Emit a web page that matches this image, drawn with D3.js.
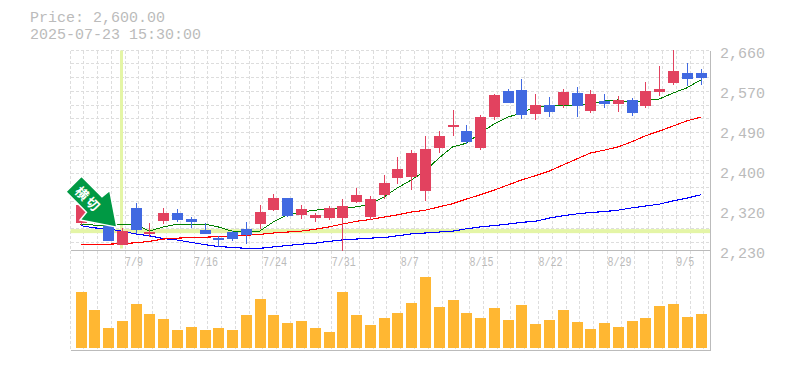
<!DOCTYPE html>
<html>
<head>
<meta charset="utf-8">
<script src="https://cdn.jsdelivr.net/npm/d3@7"></script>
<style>
html, body { margin: 0; padding: 0; background: #fff; }
svg { display: block; }
text { font-family: "Liberation Mono", monospace; fill: #bbb; }
</style>
</head>
<body>
<div class="chart"></div>
<script>
const opens  = [2295,2297,2288,2247,2327,2271,2299,2316,2303,2280,2262,2275,2282,2292,2322,2348,2312,2305,2305,2305,2340,2307,2355,2391,2394,2363,2456,2501,2492,2456,2523,2578,2581,2529,2548,2548,2574,2535,2557,2550,2559,2546,2576,2596,2617,2617];
const highs  = [2338,2322,2288,2284,2337,2295,2327,2325,2307,2295,2267,2277,2297,2333,2357,2348,2333,2316,2331,2346,2370,2353,2398,2437,2452,2482,2492,2538,2505,2527,2572,2583,2604,2572,2566,2583,2587,2581,2572,2568,2563,2598,2632,2667,2639,2626];
const lows   = [2290,2292,2256,2247,2271,2264,2292,2297,2284,2271,2243,2256,2249,2282,2320,2307,2303,2297,2301,2234,2338,2301,2346,2378,2365,2342,2445,2482,2464,2452,2516,2553,2518,2516,2523,2542,2523,2531,2542,2533,2525,2542,2568,2591,2589,2591];
const closes = [2333,2318,2256,2277,2280,2275,2316,2301,2297,2271,2258,2260,2269,2318,2348,2310,2325,2312,2327,2331,2355,2346,2380,2411,2445,2454,2482,2505,2469,2523,2570,2553,2527,2548,2533,2576,2546,2572,2550,2559,2531,2578,2583,2621,2604,2606];
const volumes = [56,38,20,27,44,34,29,18,21,18,20,18,33,49,33,25,27,20,16,56,33,23,30,35,45,71,41,48,35,30,40,28,43,24,28,38,26,19,25,21,27,30,42,44,31,34];
const maShort = [2292,2290,2290,2292,2292,2277,2286,2292,2292,2292,2286,2277,2275,2277,2297,2312,2318,2322,2325,2327,2329,2335,2350,2370,2387,2406,2434,2458,2466,2488,2507,2522,2531,2544,2547,2548,2548,2550,2557,2559,2553,2559,2561,2574,2585,2602];
const maMid = [2249,2249,2249,2250,2252,2255,2260,2262,2263,2264,2265,2267,2268,2270,2273,2275,2277,2281,2286,2292,2298,2302,2307,2312,2318,2322,2329,2336,2346,2355,2365,2376,2387,2396,2406,2419,2432,2445,2451,2458,2469,2482,2492,2503,2514,2522];
const maLong = [2289,2284,2282,2277,2271,2267,2261,2258,2253,2248,2244,2242,2240,2240,2243,2246,2249,2251,2255,2258,2260,2262,2263,2267,2271,2273,2275,2277,2282,2286,2289,2292,2296,2298,2305,2310,2314,2317,2319,2322,2327,2331,2335,2342,2348,2355];
const priceTicks = [2660,2574,2488,2402,2316,2230];
const dateLabels = [[4,'7/9'],[9,'7/16'],[14,'7/24'],[19,'7/31'],[24,'8/7'],[29,'8/15'],[34,'8/22'],[39,'8/29'],[44,'9/5']];
const markIndex = 3;
const markPrice = 2277;
const priceText = 'Price: 2,600.00';
const timeText = '2025-07-23 15:30:00';
const arrowText = '横切';

const width = 785, height = 370;
const plotLeft = 70.5, plotRight = 710.5, plotTop = 50.5, priceBottom = 250.5, volBottom = 350.5;
const step = 13.78;

const svg = d3.select('.chart').append('svg').attr('width', width).attr('height', height);

var x = d3.scaleLinear().domain([0, 45]).range([80.5, 80.5 + 45 * step]);
var y = d3.scaleLinear().domain([2230, 2660]).range([253, 53]);
var yVol = d3.scaleLinear().domain([0, 71]).range([348, 277]);

// dashed grid
var grid = svg.append('g').attr('stroke', '#ddd').attr('stroke-dasharray', '3,2').attr('shape-rendering', 'crispEdges');
grid.selectAll('.gv').data(d3.range(0, 47)).join('line').attr('class', 'gv')
    .attr('x1', d => Math.floor(70 + d * step) + 0.5).attr('x2', d => Math.floor(70 + d * step) + 0.5)
    .attr('y1', plotTop).attr('y2', volBottom);
grid.selectAll('.gh').data(d3.range(0, 15)).join('line').attr('class', 'gh')
    .attr('x1', plotLeft).attr('x2', plotRight)
    .attr('y1', d => Math.floor(50 + d * 13.75) + 0.5).attr('y2', d => Math.floor(50 + d * 13.75) + 0.5);

// highlight cross
svg.append('rect').attr('x', Math.round(x(markIndex)) - 2).attr('y', plotTop).attr('width', 3).attr('height', 198).attr('fill', '#e4f5a6');
svg.append('rect').attr('x', plotLeft).attr('y', y(markPrice) - 2).attr('width', plotRight - plotLeft).attr('height', 4).attr('fill', '#e4f5a6');

// frame
var frame = svg.append('g').attr('stroke', '#bbb').attr('shape-rendering', 'crispEdges');
frame.append('line').attr('x1', plotLeft).attr('x2', plotRight).attr('y1', priceBottom).attr('y2', priceBottom);
frame.append('line').attr('x1', plotLeft).attr('x2', plotRight).attr('y1', volBottom).attr('y2', volBottom);
frame.append('line').attr('x1', plotRight).attr('x2', plotRight).attr('y1', plotTop).attr('y2', volBottom);

// moving averages, aliased like the original
function maLine(values, color, w){
    var line = d3.line().x((d, i) => x(i)).y(d => y(d));
    svg.append('path').datum(values).attr('d', line)
        .attr('fill', 'none').attr('stroke', color).attr('stroke-width', w)
        .attr('shape-rendering', 'crispEdges');
}
maLine(maLong, '#0000ff', 1.1);
maLine(maMid, '#ff0000', 1.1);
maLine(maShort, '#008000', 1);

// candles
var upColor = '#e2425f', downColor = '#4169e1';
var candles = svg.append('g').attr('shape-rendering', 'crispEdges');
candles.selectAll('.wick').data(opens).join('line').attr('class', 'wick')
    .attr('x1', (d, i) => Math.round(x(i)) + 0.5).attr('x2', (d, i) => Math.round(x(i)) + 0.5)
    .attr('y1', (d, i) => y(highs[i])).attr('y2', (d, i) => y(lows[i]))
    .attr('stroke', (d, i) => closes[i] >= d ? upColor : downColor);
candles.selectAll('.body').data(opens).join('rect').attr('class', 'body')
    .attr('x', (d, i) => Math.round(x(i)) - 5).attr('width', 11)
    .attr('y', (d, i) => y(Math.max(d, closes[i])))
    .attr('height', (d, i) => Math.max(2, Math.abs(y(d) - y(closes[i]))))
    .attr('fill', (d, i) => closes[i] >= d ? upColor : downColor);

// volume
svg.append('g').selectAll('rect').data(volumes).join('rect')
    .attr('x', (d, i) => Math.round(x(i)) - 5).attr('width', 11)
    .attr('y', d => yVol(d)).attr('height', d => yVol(0) - yVol(d))
    .attr('fill', '#ffb732');

// arrow marker
var tipX = x(markIndex) - 5, tipY = y(markPrice) - 4;
var arrow = svg.append('g').attr('transform', 'translate(' + tipX + ',' + tipY + ') rotate(45)');
arrow.append('path')
    .attr('d', 'M0,0 L-31,-21 L-32,-11 L-61,-11 L-61,11 L-32,11 L-31,21 Z')
    .attr('fill', '#009944').attr('stroke', '#fff').attr('stroke-width', 1.5);
arrow.append('text').attr('x', -40).attr('y', 0).attr('text-anchor', 'middle').attr('dominant-baseline', 'central')
    .style('font-family', '"Noto Sans CJK JP"').style('font-weight', 'bold').style('font-size', '13px').style('letter-spacing', '2px').style('fill', '#fff')
    .text(arrowText);

// labels
svg.append('text').attr('x', 30).attr('y', 22).style('font-size', '15px').text(priceText);
svg.append('text').attr('x', 30).attr('y', 39).style('font-size', '15px').text(timeText);

svg.selectAll('.ptick').data(priceTicks).join('text').attr('class', 'ptick')
    .attr('x', 720).attr('y', d => y(d) + 5).style('font-size', '15px')
    .text(d => d3.format(',')(Math.round(d / 10) * 10));

svg.selectAll('.dtick').data(dateLabels).join('text').attr('class', 'dtick')
    .attr('x', d => x(d[0]) - 10.5).attr('y', 266).style('font-size', '12.5px')
    .attr('textLength', d => d[1].length * 6).attr('lengthAdjust', 'spacingAndGlyphs')
    .text(d => d[1]);
</script>
</body>
</html>
